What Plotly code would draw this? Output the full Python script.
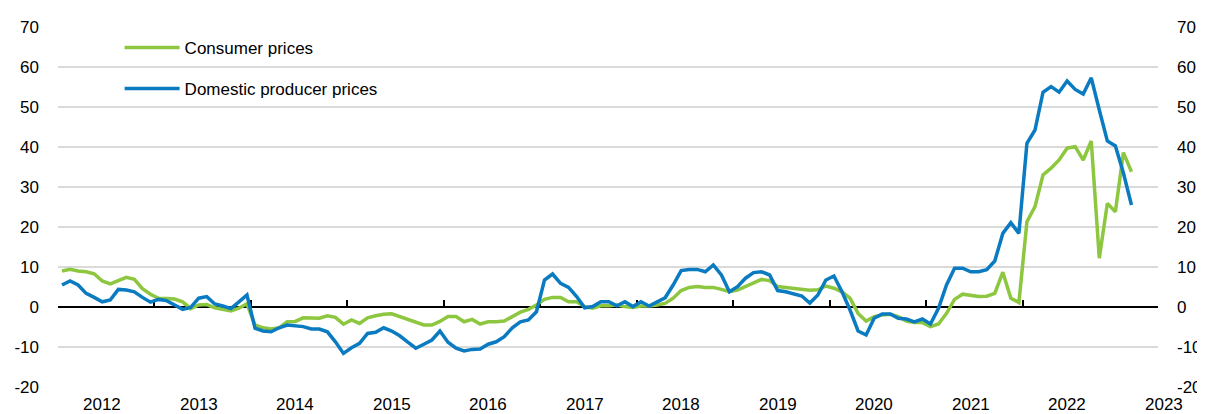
import plotly.graph_objects as go

start_year = 2012
years = [str(y) for y in range(2012, 2024)]
y_ticks = [-20, -10, 0, 10, 20, 30, 40, 50, 60, 70]
y_tick_labels = ["-20", "-10", "0", "10", "20", "30", "40", "50", "60", "70"]

consumer_prices = [
    9.0, 9.4, 9.0, 8.8, 8.3, 6.5, 5.8, 6.7, 7.4, 6.9, 4.6, 3.2,
    2.2, 2.1, 2.0, 1.3, -0.4, 0.5, 0.6, -0.2, -0.7, -1.0, -0.3, 0.8,
    -4.5, -5.2, -5.5, -5.2, -3.7, -3.6, -2.7, -2.8, -2.8, -2.2, -2.6, -4.3,
    -3.25, -4.1, -2.7, -2.2, -1.8, -1.7, -2.4, -3.0, -3.9, -4.5, -4.5, -3.6,
    -2.4, -2.4, -3.7, -3.1, -4.25, -3.7, -3.7, -3.5, -2.4, -1.3, -0.6, 0.5,
    1.9, 2.4, 2.4, 1.3, 1.3, 0.1, -0.3, 0.3, 0.3, 0.5, 0.1, -0.1,
    0.25, 0.25, 0.5, 0.9, 2.2, 4.1, 4.9, 5.1, 4.9, 4.9, 4.4, 3.8,
    4.25, 5.1, 5.9, 6.9, 6.6, 5.1, 4.9, 4.7, 4.4, 4.2, 4.3, 5.25,
    4.7, 3.8, 2.2, -1.6, -3.5, -2.4, -2.0, -1.8, -2.4, -3.5, -3.9, -3.9,
    -4.9, -4.25, -1.6, 1.9, 3.2, 3.0, 2.6, 2.7, 3.4, 8.7, 2.2, 1.1,
    21.3, 25.1, 33.0, 34.7, 36.75, 39.7, 40.1, 36.75, 41.5, 12.2, 25.9, 23.8,
    38.6, 33.8,
]

producer_prices = [
    5.5, 6.5, 5.5, 3.4, 2.4, 1.3, 1.75, 4.4, 4.25, 3.8, 2.4, 1.2,
    1.9, 1.6, 0.5, -0.6, -0.1, 2.2, 2.6, 0.75, 0.25, -0.4, 1.3, 3.0,
    -5.3, -6.0, -6.2, -5.2, -4.5, -4.7, -4.9, -5.5, -5.5, -6.2, -8.7, -11.6,
    -10.2, -9.1, -6.6, -6.3, -5.2, -6.0, -7.2, -8.8, -10.3, -9.3, -8.25, -6.0,
    -8.8, -10.3, -11.0, -10.6, -10.5, -9.3, -8.7, -7.4, -5.2, -3.7, -3.25, -1.2,
    6.75, 8.25, 5.9, 4.9, 2.6, -0.2, 0.1, 1.3, 1.3, 0.3, 1.3, 0.1,
    1.3, 0.25, 1.3, 2.3, 5.5, 9.1, 9.4, 9.4, 8.8, 10.5, 8.0, 3.8,
    5.1, 7.2, 8.6, 8.8, 8.0, 4.1, 3.8, 3.2, 2.75, 1.0, 3.0, 6.75,
    7.75, 3.8, -0.75, -6.0, -7.0, -2.8, -1.75, -1.75, -2.8, -3.0, -3.7, -3.0,
    -4.25, -0.3, 5.5, 9.7, 9.7, 8.8, 8.8, 9.3, 11.5, 18.4, 21.1, 18.4,
    40.9, 44.25, 53.7, 55.1, 53.7, 56.5, 54.4, 53.25, 57.3, 49.25, 41.5, 40.25,
    33.5, 25.5,
]

# months since Jan 2012, plotted at mid-month
x_months = [i + 0.5 for i in range(len(consumer_prices))]
x_range = [0, 136.8]
year_starts = [12 * k for k in range(len(years) - 1)]
year_label_pos = [12 * k + 5.5 for k in range(len(years))]

GREEN = "#8DC63F"
BLUE = "#0A7BC1"
FONT = "Liberation Sans, Arial, sans-serif"
FS = 17

fig = go.Figure()
# invisible helper trace so the secondary axes (zero-line ticks, right labels) render
fig.add_trace(go.Scatter(x=x_months[:1], y=consumer_prices[:1], mode="lines",
                         xaxis="x2", yaxis="y2", showlegend=False,
                         hoverinfo="skip", line=dict(width=0)))
fig.add_trace(go.Scatter(x=x_months, y=consumer_prices, mode="lines",
                         name="Consumer prices", legendgroup="a",
                         line=dict(color=GREEN, width=3.5)))
fig.add_trace(go.Scatter(x=x_months, y=producer_prices, mode="lines",
                         name="Domestic producer prices", legendgroup="b",
                         line=dict(color=BLUE, width=3.5)))

span = x_range[1] - x_range[0]
for pos, yr in zip(year_label_pos, years):
    fig.add_annotation(x=(pos - x_range[0]) / span, y=0, xref="paper", yref="paper",
                       xanchor="center", yanchor="top", yshift=-6,
                       showarrow=False, text=yr,
                       font=dict(family=FONT, size=FS, color="#000"))

fig.update_layout(
    width=1197, height=406,
    margin=dict(l=50, r=47, t=19, b=27, autoexpand=False),
    paper_bgcolor="white", plot_bgcolor="white",
    font=dict(family=FONT, size=FS, color="#000"),
    showlegend=True,
    legend=dict(x=0.056, y=0.992, xanchor="left", yanchor="top",
                bgcolor="rgba(0,0,0,0)", traceorder="grouped",
                tracegroupgap=16, itemwidth=55,
                font=dict(family=FONT, size=FS, color="#000")),
    xaxis=dict(range=x_range, showgrid=False, zeroline=False, automargin=False,
               showticklabels=False, ticks="", showline=False, fixedrange=True),
    xaxis2=dict(range=x_range, overlaying="x", anchor="free", automargin=False,
                position=20 / 90, side="bottom", showgrid=False,
                zeroline=False, showline=True, linecolor="#000", linewidth=1.5,
                ticks="inside", ticklen=6, tickwidth=1.5, tickcolor="#000",
                tickvals=year_starts, showticklabels=False,
                layer="below traces"),
    yaxis=dict(range=[-20, 70], tickvals=y_ticks, ticktext=y_tick_labels,
               showgrid=True, automargin=False,
               gridcolor="#DADADA", gridwidth=1.5, zeroline=False,
               showline=False, ticks="", ticklabelstandoff=18,
               tickfont=dict(family=FONT, size=FS, color="#000")),
    yaxis2=dict(range=[-20, 70], tickvals=y_ticks, ticktext=y_tick_labels,
                overlaying="y", automargin=False,
                side="right", anchor="x", showgrid=False, zeroline=False,
                showline=False, ticks="", ticklabelstandoff=18,
                tickfont=dict(family=FONT, size=FS, color="#000")),
)

fig.write_html("out.html")
